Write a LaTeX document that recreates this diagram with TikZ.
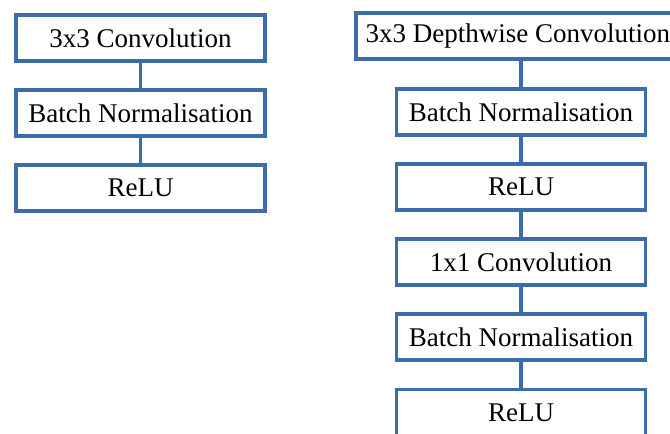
\documentclass[tikz,border=0pt]{standalone}
\usepackage{fontspec}
\setmainfont{Liberation Serif}
\usetikzlibrary{positioning}
\definecolor{layerblue}{RGB}{60,108,170}
\begin{document}
\begin{tikzpicture}[x=1pt, y=1pt, node distance=25.5pt]
    % Define styles
    \tikzstyle{layer} = [rectangle, draw=layerblue, line width=3.6pt, fill=white, minimum width=249pt, minimum height=46pt, inner sep=0pt, font=\fontsize{27}{32}\selectfont]
    \tikzstyle{link} = [draw=layerblue, line width=3.6pt]
    \useasboundingbox (0,0) rectangle (670,434);

    % Standard convolution block
    \node [layer] (conv) at (140.5,396) {3x3 Convolution};
    \node [layer, below=of conv] (convbn) {Batch Normalisation};
    \node [layer, below=of convbn] (convrelu) {ReLU};

    % Depthwise separable block
    \node [layer, minimum width=324pt, anchor=west] (dwconv) at (354,398) {3x3 Depthwise Convolution};
    \node [layer] (dwbn) at (521,322) {Batch Normalisation};
    \node [layer, below=of dwbn] (dwrelu) {ReLU};
    \node [layer, below=of dwrelu] (pwconv) {1x1 Convolution};
    \node [layer, below=of pwconv] (pwbn) {Batch Normalisation};
    \node [layer, below=of pwbn] (pwrelu) {ReLU};

    % Links
    \draw [link] (conv) -- (convbn);
    \draw [link] (convbn) -- (convrelu);
    \draw [link] (dwbn.north) -- (dwbn.north |- dwconv.south);
    \draw [link] (dwbn) -- (dwrelu);
    \draw [link] (dwrelu) -- (pwconv);
    \draw [link] (pwconv) -- (pwbn);
    \draw [link] (pwbn) -- (pwrelu);
\end{tikzpicture}
\end{document}
